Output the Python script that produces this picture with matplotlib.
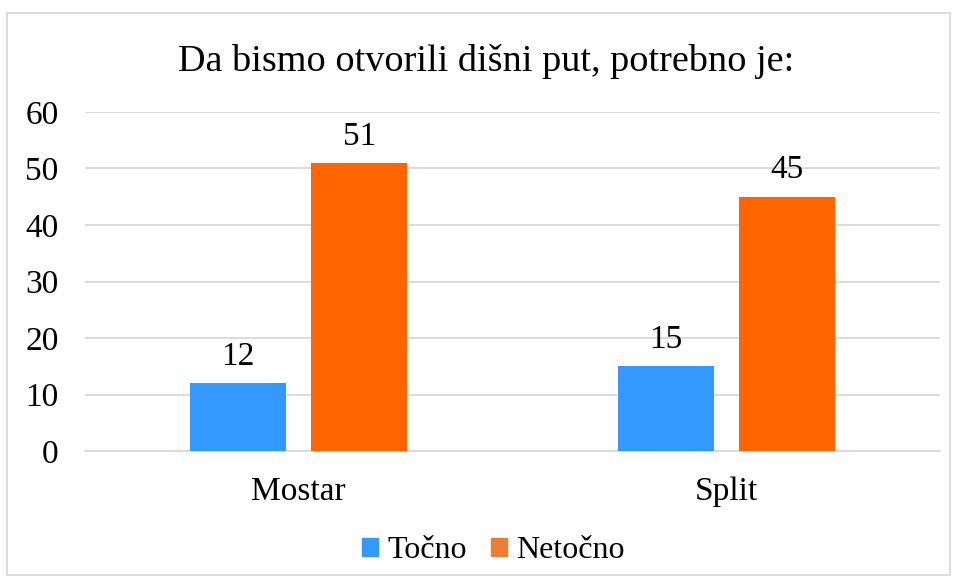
import matplotlib.pyplot as plt
from matplotlib.patches import Patch, Rectangle

plt.rcParams['font.family'] = ['Liberation Serif', 'DejaVu Serif']

categories = ['Mostar', 'Split']
tocno = [12, 15]
netocno = [51, 45]
series_names = ['Točno', 'Netočno']
yticks = [0, 10, 20, 30, 40, 50, 60]

blue = '#3399FF'
orange = '#FF6600'
legend_orange = '#ED7D31'

fig = plt.figure(figsize=(9.56, 5.82), dpi=100)
ax = fig.add_axes([0.089, 0.225, 0.894, 0.5826])

x = list(range(len(categories)))
w = 0.2246
off = 0.1415
b1 = ax.bar([v - off for v in x], tocno, w, color=blue, zorder=3)
b2 = ax.bar([v + off for v in x], netocno, w, color=orange, zorder=3)

for bars in (b1, b2):
    for rect in bars:
        h = rect.get_height()
        ax.text(rect.get_x() + rect.get_width() / 2, h + 2.0, str(h),
                ha='center', va='bottom', fontsize=24)

ax.set_xlim(-0.5, len(categories) - 0.5)
ax.set_ylim(0, 60)
ax.set_yticks(yticks)
ax.set_xticks(x)
ax.set_xticklabels(categories)
ax.tick_params(axis='both', length=0, labelsize=24)
ax.tick_params(axis='y', pad=19)
ax.tick_params(axis='x', pad=18)
ax.grid(axis='y', color='#D9D9D9', linewidth=1.3, zorder=0)
for s in ['top', 'right', 'left']:
    ax.spines[s].set_visible(False)
ax.spines['bottom'].set_color('#D9D9D9')
ax.spines['bottom'].set_linewidth(1.3)

fig.text(0.508, 0.895, 'Da bismo otvorili dišni put, potrebno je:',
         ha='center', va='center', fontsize=27.5)

handles = [Patch(color=blue), Patch(color=legend_orange)]
fig.legend(handles, series_names, loc='center', bbox_to_anchor=(0.516, 0.054),
           ncol=2, frameon=False, fontsize=23, handlelength=0.5,
           handleheight=0.5, handletextpad=0.3, columnspacing=0.75)

fig.add_artist(Rectangle((7 / 956, 7 / 582), 943 / 956, 562 / 582,
                         transform=fig.transFigure, fill=False,
                         edgecolor='#D9D9D9', linewidth=1.3))

fig.savefig('out.png', dpi=100)
